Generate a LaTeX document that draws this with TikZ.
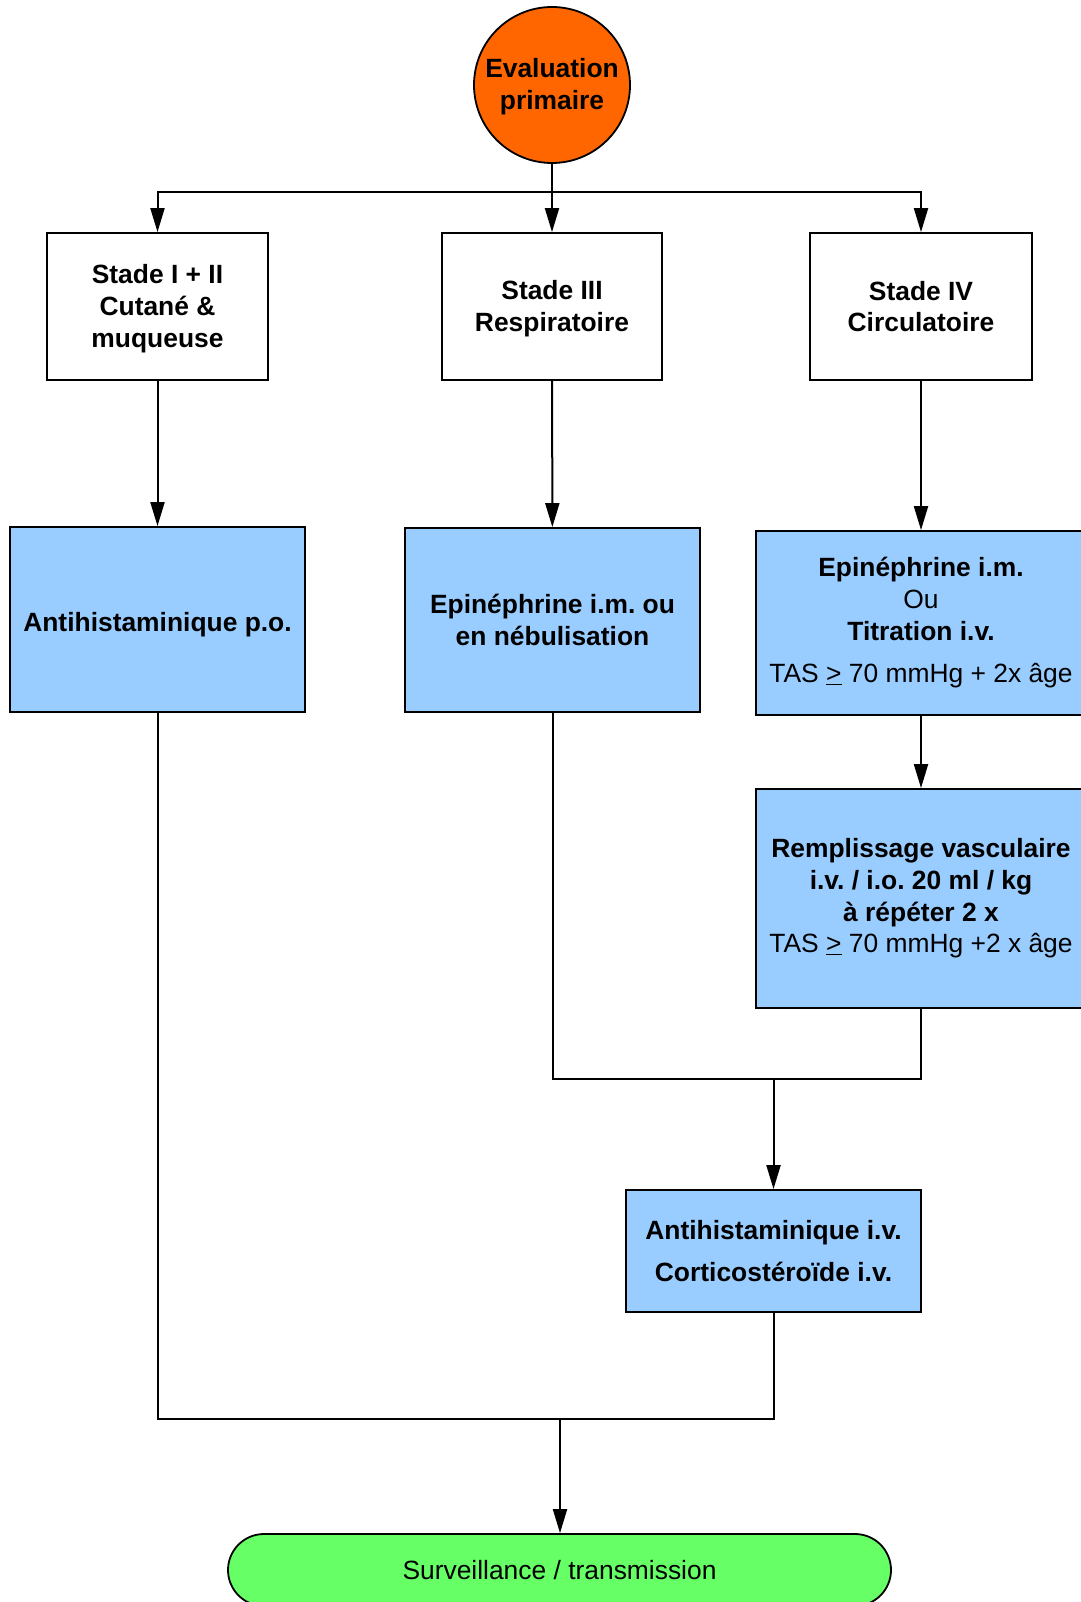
\documentclass[tikz,border=0pt]{standalone}
\usepackage{fontspec}
\setmainfont{Liberation Sans}
\usetikzlibrary{arrows.meta}
\definecolor{evalorange}{HTML}{FF6600}
\definecolor{stepblue}{HTML}{99CCFF}
\definecolor{endgreen}{HTML}{66FF66}
% lower a line of text without changing the size it takes up
\newcommand{\dropline}[2]{\raisebox{-#1}[\height][\depth]{#2}}
\frenchspacing
\begin{document}
\begin{tikzpicture}[x=1pt,y=-1pt,
  txt/.style={font=\fontsize{26.4}{31.7}\selectfont, align=center, inner sep=0pt},
  stagebox/.style={txt, draw=black, line width=1.8pt, fill=white, font=\fontsize{26.4}{31.7}\selectfont\bfseries},
  actbox/.style={txt, draw=black, line width=1.8pt, fill=stepblue},
  flow/.style={line width=2pt, -{Triangle[length=24pt,width=14pt]}},
  link/.style={line width=2pt}]
\useasboundingbox (0,0) rectangle (1080,1602);

% start
\node[txt, circle, draw=black, line width=1.8pt, fill=evalorange, minimum size=156pt, font=\fontsize{26.4}{31.7}\selectfont\bfseries]
  (eval) at (552,85) {\dropline{2pt}{Evaluation}\\\dropline{2pt}{primaire}};

% stages
\node[stagebox, minimum width=221pt, minimum height=147pt] (s1) at (157.5,306.5)
  {\dropline{2pt}{Stade I + II}\\\dropline{2pt}{Cutané \&}\\\dropline{2pt}{muqueuse}};
\node[stagebox, minimum width=220pt, minimum height=147pt] (s2) at (552,306.5)
  {\dropline{2pt}{Stade III}\\\dropline{2pt}{Respiratoire}};
\node[stagebox, minimum width=222pt, minimum height=147pt] (s3) at (921,306.5) {Stade IV\\Circulatoire};

% treatments
\node[actbox, minimum width=295pt, minimum height=185pt] (a1) at (157.5,619.5)
  {\dropline{5pt}{\bfseries Antihistaminique p.o.}};
\node[actbox, minimum width=295pt, minimum height=184pt] (b1) at (552.5,620)
  {\bfseries Epinéphrine i.m. ou\\\bfseries en nébulisation};
\node[actbox, minimum width=330pt, minimum height=184pt] (c1) at (921,623)
  {\textbf{Epinéphrine i.m.}\\Ou\\\textbf{Titration i.v.}\\[11pt]TAS \underline{>} 70 mmHg + 2x âge};
\node[actbox, minimum width=330pt, minimum height=219pt] (c2) at (921,898.5)
  {\textbf{Remplissage vasculaire}\\\textbf{i.v. / i.o. 20 ml / kg}\\\textbf{à répéter 2 x}\\TAS \underline{>} 70 mmHg +2 x âge};
\node[actbox, minimum width=295pt, minimum height=122pt] (e) at (773.5,1251)
  {\textbf{Antihistaminique i.v.}\\[10pt]\textbf{Corticostéroïde i.v.}};

% end
\node[txt, draw=black, line width=1.8pt, fill=endgreen, rounded corners=36pt, minimum width=663pt, minimum height=72pt]
  (term) at (559.5,1570) {Surveillance / transmission};

% junctions
\coordinate (split) at (552,192);
\coordinate (m1) at (773.5,1079);
\coordinate (m2) at (560,1419);

% connectors
\draw[flow] (eval.south) -- (s2.north);
\draw[flow] (split) -| (s1.north);
\draw[flow] (split) -| (s3.north);
\draw[flow] (s1) -- (a1);
\draw[flow] (s2) -- (b1);
\draw[flow] (s3) -- (c1);
\draw[flow] (c1) -- (c2);
\draw[link] (b1.south) |- (m1) -| (c2.south);
\draw[flow] (m1) -- (e.north);
\draw[link] (a1.south) |- (m2) -| (e.south);
\draw[flow] (m2) -- (term.north -| m2);
\end{tikzpicture}
\end{document}
